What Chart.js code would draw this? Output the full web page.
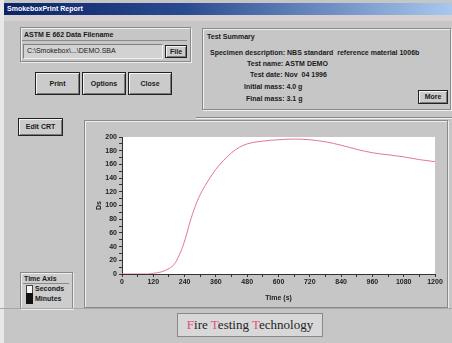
<!DOCTYPE html>
<html>
<head>
<meta charset="utf-8">
<script src="https://cdn.jsdelivr.net/npm/chart.js@4"></script>
<style>
  body { margin: 0; width: 452px; height: 343px; background: #c6c6c6; position: relative; overflow: hidden;
         font-family: "Liberation Sans", Arial, sans-serif; font-size: 7px; font-weight: bold; color: #1a1a1a; }
  .abs { position: absolute; }
  .title { left: 4px; top: 3px; width: 448px; height: 12px; background: linear-gradient(to right, #0c2466, #2a4a90 40%, #a8c8ee);
           color: #fff; font-size: 7px; line-height: 12px; padding-left: 3px; box-sizing: border-box; }
  .group { border: 1px solid #8a8a8a; box-shadow: 1px 1px 0 #eeeeee, inset 1px 1px 0 #eeeeee; }
  .btn { background: #cbcbcb; border: 1px solid #222; box-shadow: inset 1px 1px 0 #f4f4f4, inset -1px -1px 0 #7a7a7a;
         text-align: center; box-sizing: border-box; }
  .sunk { border-top: 1px solid #7e7e7e; border-left: 1px solid #7e7e7e; border-right: 1px solid #f0f0f0; border-bottom: 1px solid #f0f0f0; }
</style>
</head>
<body>
<div class="abs" style="left:0;top:0;width:4px;height:343px;background:#e8e8e8"></div>
<div class="abs title">SmokeboxPrint Report</div>
<div class="abs" style="left:4px;top:15px;width:448px;height:6px;background:#d6d2d2"></div>

<!-- filename group -->
<div class="abs group" style="left:20px;top:27px;width:169px;height:33px"></div>
<div class="abs" style="left:24px;top:31px">ASTM E 662 Data Filename</div>
<div class="abs" style="left:22px;top:40px;width:165px;height:1px;background:#8a8a8a"></div>
<div class="abs sunk" style="left:23px;top:44px;width:138px;height:13px;background:#d2d2d2"></div>
<div class="abs" style="left:27px;top:47px;font-weight:normal">C:\Smokebox\...\DEMO.SBA</div>
<div class="abs btn" style="left:165px;top:45px;width:22px;height:13px;line-height:11px">File</div>

<div class="abs btn" style="left:35px;top:72px;width:45px;height:23px;line-height:21px">Print</div>
<div class="abs btn" style="left:82px;top:72px;width:44px;height:23px;line-height:21px">Options</div>
<div class="abs btn" style="left:128px;top:72px;width:44px;height:23px;line-height:21px">Close</div>

<!-- summary group -->
<div class="abs group" style="left:202px;top:28px;width:247px;height:80px"></div>
<div class="abs" style="left:207px;top:33px">Test Summary</div>
<div class="abs" style="left:210px;top:49px">Specimen description: NBS standard&nbsp; reference material 1006b</div>
<div class="abs" style="left:247px;top:60px">Test name: ASTM DEMO</div>
<div class="abs" style="left:250px;top:71px">Test date: Nov&nbsp; 04 1996</div>
<div class="abs" style="left:244px;top:83px">Initial mass: 4.0 g</div>
<div class="abs" style="left:246px;top:95px">Final mass: 3.1 g</div>
<div class="abs btn" style="left:418px;top:90px;width:30px;height:14px;line-height:12px">More</div>
<div class="abs" style="left:196px;top:117px;width:256px;height:1px;background:#8a8a8a"></div>
<div class="abs" style="left:196px;top:118px;width:256px;height:1px;background:#eeeeee"></div>

<div class="abs btn" style="left:18px;top:118px;width:45px;height:18px;line-height:16px">Edit CRT</div>

<!-- chart panel -->
<div class="abs" style="left:84px;top:120px;width:362px;height:186px;border:1px solid #8a8a8a;box-shadow:inset 1px 1px 0 #eeeeee, 1px 1px 0 #eeeeee"></div>
<div class="abs" style="left:85px;top:122px;width:361px;height:180px"><canvas id="dsChart"></canvas></div>

<!-- time axis -->
<div class="abs group" style="left:20px;top:272px;width:51px;height:35px;background:#cdcdcd"></div>
<div class="abs" style="left:24px;top:275px">Time Axis</div>
<div class="abs" style="left:23px;top:283px;width:46px;height:1px;background:#8a8a8a"></div>
<div class="abs" style="left:26px;top:285px;width:5px;height:7px;background:#f4f4f4;border:1px solid #444"></div>
<div class="abs" style="left:35px;top:285px">Seconds</div>
<div class="abs" style="left:26px;top:293px;width:5px;height:9px;background:#111;border:1px solid #111"></div>
<div class="abs" style="left:35px;top:295px">Minutes</div>

<!-- footer -->
<div class="abs" style="left:0;top:308px;width:452px;height:1px;background:#a8a8a8"></div>
<div class="abs" style="left:177px;top:313px;width:144px;height:22px;background:#d8d8d8;border:1px solid #888;
     font-family:'Liberation Serif',serif;font-size:13px;font-weight:normal;line-height:22px;text-align:center;color:#222">
  <span style="color:#e0507a">F</span>ire <span style="color:#e0507a">T</span>esting <span style="color:#e0507a">T</span>echnology
</div>

<script>
// time (s) and specific optical density Ds
const timeSec = [0, 60, 100, 120, 150, 180, 200, 220, 240, 260, 280, 300, 330, 360, 390, 420, 450, 480, 540, 600, 660, 720, 780, 840, 900, 960, 1020, 1080, 1140, 1200];
const dsValues = [0, 0, 0, 1, 3, 8, 14, 28, 48, 75, 98, 116, 136, 153, 166, 177, 185, 190, 194, 196, 197, 196, 193, 188, 182, 177, 174, 171, 167, 164];
const xMax = 1200, xStep = 120;
const yMax = 200, yStep = 20;

const points = timeSec.map((t, i) => ({ x: t, y: dsValues[i] }));
const tickFont = { family: 'Liberation Sans', size: 7, weight: 'bold' };

const whiteArea = {
    id: 'whiteArea',
    beforeDraw(chart) {
        const a = chart.chartArea;
        chart.ctx.save();
        chart.ctx.fillStyle = '#ffffff';
        chart.ctx.fillRect(a.left, a.top, a.right - a.left, a.bottom - a.top);
        chart.ctx.restore();
    }
};

new Chart(document.getElementById('dsChart'), {
    type: 'line',
    data: {
        datasets: [{
            data: points,
            borderColor: '#e4788e',
            borderWidth: 1,
            pointRadius: 0,
            cubicInterpolationMode: 'monotone',
            fill: false
        }]
    },
    options: {
        responsive: true,
        maintainAspectRatio: false,
        animation: false,
        layout: { padding: { top: 15, right: 11, left: 0, bottom: 0 } },
        plugins: { legend: { display: false }, tooltip: { enabled: false } },
        scales: {
            x: {
                type: 'linear', min: 0, max: xMax,
                afterFit(s) { s.height = 28; },
                border: { color: '#333' },
                grid: { drawOnChartArea: false, tickLength: 3, color: '#333' },
                ticks: {
                    stepSize: xStep / 2, autoSkip: false, maxRotation: 0, padding: 1,
                    font: tickFont, color: '#222',
                    callback: v => (v % xStep === 0 ? v : '')
                },
                title: { display: true, text: 'Time (s)', font: tickFont, color: '#222', padding: 0 }
            },
            y: {
                min: 0, max: yMax,
                afterFit(s) { s.width = 37; },
                border: { color: '#333' },
                grid: { drawOnChartArea: false, tickLength: 3, color: '#333' },
                ticks: {
                    stepSize: yStep / 2, autoSkip: false, padding: 2,
                    font: tickFont, color: '#222',
                    callback: v => (v % yStep === 0 ? v : '')
                },
                title: { display: true, text: 'Ds', font: tickFont, color: '#222', padding: { top: 10, bottom: 0 } }
            }
        }
    },
    plugins: [whiteArea]
});
</script>
</body>
</html>
